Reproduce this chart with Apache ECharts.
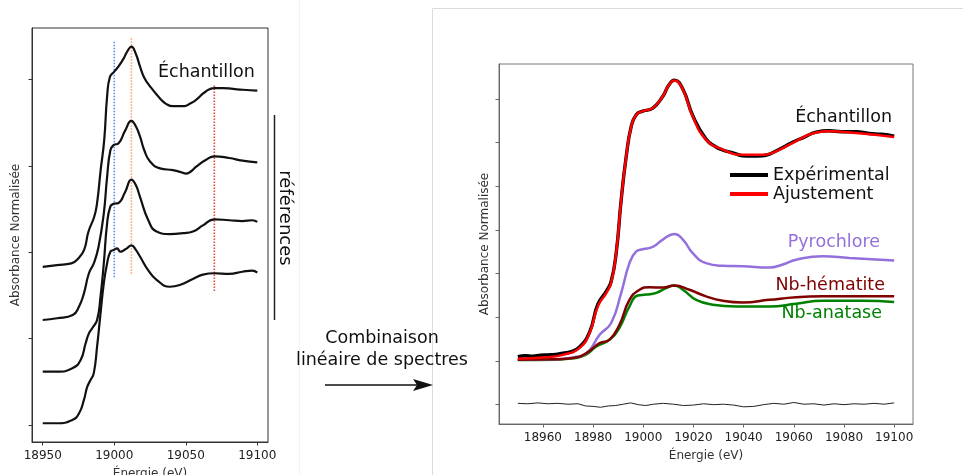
<!DOCTYPE html>
<html>
<head>
<meta charset="utf-8">
<script src="https://cdn.jsdelivr.net/npm/echarts@6/dist/echarts.min.js"></script>
<style>
  html, body { margin: 0; padding: 0; background: #fff; }
  #chart { width: 963px; height: 475px; }
</style>
</head>
<body>
<div id="chart"></div>
<script>
// ---- left panel : sample + 3 references, stacked (energy eV, absorbance + offset)
const leftSample = [[18950,1.83],[18960,1.85],[18970,1.87],[18975,1.93],[18979,2.03],[18982,2.24],[18986,2.41],[18988,2.57],[18990.5,2.95],[18993,3.30],[18995,3.80],[18997,4.03],[19000,4.09],[19003,4.15],[19006.5,4.24],[19009,4.32],[19012,4.38],[19015,4.30],[19018,4.15],[19021,4.02],[19025,3.92],[19032,3.78],[19036,3.72],[19041,3.69],[19049,3.69],[19053,3.72],[19057,3.76],[19064,3.86],[19070,3.90],[19076,3.90],[19083,3.89],[19090,3.88],[19100,3.87]]
const leftRef1 = [[18950,1.215],[18960,1.235],[18971,1.273],[18975.4,1.37],[18978.8,1.524],[18982.3,1.756],[18985.7,1.87],[18989,2.06],[18992.7,2.45],[18995,2.87],[18997.3,3.18],[18999.6,3.24],[19003,3.26],[19007.7,3.41],[19012,3.52],[19015,3.46],[19018,3.34],[19021,3.18],[19025,3.05],[19032,2.97],[19041,2.95],[19046,2.93],[19050.4,2.91],[19054,2.94],[19057.3,2.99],[19064.2,3.07],[19070,3.11],[19080.4,3.09],[19089.6,3.06],[19100,3.04]]
const leftRef2 = [[18950,0.617],[18960,0.617],[18970.7,0.656],[18976.5,0.752],[18980,0.946],[18982.3,1.06],[18984.6,1.12],[18988,1.215],[18990.4,1.485],[18992.7,1.87],[18995,2.33],[18997.3,2.53],[18999.6,2.56],[19003,2.57],[19007.7,2.70],[19012,2.84],[19015,2.78],[19018,2.64],[19023.8,2.37],[19029.6,2.24],[19038.9,2.21],[19048.1,2.22],[19055,2.24],[19062,2.31],[19070,2.38],[19080.4,2.37],[19089.6,2.36],[19096.5,2.37],[19100,2.35]]
const leftRef3 = [[18950,0.02],[18960,0.02],[18970.7,0.058],[18975.4,0.135],[18978.8,0.29],[18981.1,0.44],[18983.4,0.52],[18985.7,0.60],[18988,0.906],[18990.4,1.29],[18992.7,1.64],[18995,1.87],[18997.3,2.006],[18999.6,2.025],[19002,2.045],[19004.2,2.006],[19006.5,2.02],[19008.8,2.045],[19012,2.08],[19015,2.03],[19018,1.95],[19023.8,1.79],[19029.6,1.68],[19038.9,1.60],[19045.8,1.62],[19055,1.69],[19062,1.74],[19070,1.756],[19080.4,1.75],[19089.6,1.774],[19096.5,1.786],[19100,1.763]]

// dotted guide lines : energy, bottom, top
const guideEnergy = [19000, 19012, 19070]
const guideBottom = [1.71, 1.75, 1.55]
const guideTop = [4.44, 4.48, 3.94]

const leftTicksX = [18950, 19000, 19050, 19100]
const leftTicksY = [0, 1, 2, 3, 4]

// ---- right panel : linear combination fit
const experimental = [[18950,0.10],[18953,0.12],[18956,0.11],[18959,0.13],[18962,0.14],[18965,0.15],[18968,0.18],[18971,0.21],[18974.6,0.32],[18978.6,0.66],[18981.9,1.30],[18985.3,1.60],[18987.2,1.82],[18989.2,2.47],[18991.2,3.69],[18993.2,4.68],[18995.2,5.37],[18997.2,5.64],[18999.8,5.72],[19003.8,5.79],[19007.8,6.06],[19010,6.30],[19012.4,6.43],[19015.8,6.22],[19019.7,5.62],[19025,5.08],[19029,4.90],[19031.7,4.83],[19036,4.76],[19039.6,4.70],[19043,4.69],[19047.6,4.70],[19050,4.73],[19052.9,4.81],[19056,4.90],[19059.5,5.01],[19064,5.12],[19068.9,5.24],[19074,5.27],[19079,5.25],[19084.8,5.25],[19090,5.21],[19095,5.19],[19100,5.15]]
const fit = [[18950,0.05],[18960,0.08],[18968,0.14],[18974.6,0.30],[18978.6,0.64],[18981.9,1.25],[18985.3,1.56],[18987.2,1.79],[18989.2,2.47],[18991.2,3.69],[18993.2,4.68],[18995.2,5.37],[18997.2,5.64],[18999.8,5.72],[19003.8,5.79],[19007.8,6.06],[19010,6.30],[19012.4,6.42],[19015.8,6.21],[19019.7,5.60],[19025,5.07],[19031.7,4.84],[19039.6,4.72],[19047.6,4.72],[19052.9,4.80],[19059.5,4.99],[19068.9,5.23],[19074,5.26],[19084.8,5.22],[19100,5.13]]
const pyrochlore = [[18950,0.03],[18965,0.04],[18972,0.08],[18977.3,0.17],[18982.6,0.60],[18987.2,0.87],[18991.2,1.56],[18994.5,2.24],[18997.2,2.51],[18999.8,2.56],[19003.8,2.61],[19007.8,2.78],[19012.4,2.91],[19015.8,2.78],[19019.7,2.47],[19025,2.24],[19031.7,2.18],[19039.6,2.17],[19050.3,2.14],[19055.6,2.21],[19060.9,2.32],[19071.5,2.40],[19082.1,2.36],[19100,2.30]]
const hematite = [[18950,0.03],[18965,0.04],[18972,0.07],[18977,0.17],[18982.6,0.41],[18986.6,0.49],[18990.5,0.83],[18994.5,1.40],[18998.5,1.63],[19002.5,1.69],[19007.8,1.68],[19012.4,1.73],[19018.4,1.63],[19025,1.48],[19031.7,1.38],[19039.6,1.34],[19050.3,1.40],[19060.9,1.46],[19071.5,1.48],[19087.4,1.48],[19100,1.48]]
const anatase = [[18950,0.02],[18965,0.03],[18972,0.06],[18977,0.14],[18981.3,0.33],[18986.6,0.49],[18990.5,0.76],[18994.5,1.25],[18997.8,1.50],[19001.2,1.52],[19005.2,1.56],[19009.1,1.67],[19012.4,1.73],[19015.8,1.63],[19021.1,1.40],[19027.7,1.29],[19037,1.25],[19050.3,1.25],[19060.9,1.31],[19071.5,1.38],[19087.4,1.38],[19100,1.35]]
const residual = [[18950,-0.97],[18954,-0.98],[18958,-0.96],[18962,-0.98],[18966,-0.97],[18970,-0.99],[18974,-0.98],[18977,-1.03],[18980,-1.04],[18983,-1.06],[18986,-1.03],[18989,-1.02],[18992,-0.99],[18995,-0.96],[18998,-1.00],[19001,-1.02],[19004,-0.99],[19008,-0.97],[19012,-0.99],[19016,-1.02],[19020,-1.01],[19024,-0.98],[19028,-1.00],[19032,-0.99],[19036,-1.01],[19040,-1.05],[19044,-1.04],[19048,-1.00],[19052,-0.97],[19056,-0.99],[19060,-0.95],[19064,-0.99],[19068,-0.98],[19072,-1.01],[19076,-0.98],[19080,-1.00],[19084,-0.98],[19088,-0.99],[19092,-0.97],[19096,-0.99],[19100,-0.96]]

const rightTicksX = [18960, 18980, 19000, 19020, 19040, 19060, 19080, 19100]
const rightTicksY = [-1, 0, 1, 2, 3, 4, 5, 6]

const FONT = 'DejaVu Sans'
const chart = echarts.init(document.getElementById('chart'), null, { renderer: 'canvas' })

function xAxisOf (grid, ticks, color) {
  return {
    gridIndex: grid,
    type: 'value',
    min: 18942.5,
    max: 19107.5,
    splitLine: { show: false },
    axisLine: { onZero: false, lineStyle: { color: color, width: 1 } },
    axisTick: { customValues: ticks, length: 3.5, lineStyle: { color: color } },
    axisLabel: { customValues: ticks, formatter: v => String(v), margin: 8, fontSize: 12, color: '#222', fontFamily: FONT },
    name: 'Énergie (eV)',
    nameLocation: 'middle',
    nameGap: 26,
    nameTextStyle: { fontSize: 12, color: '#333', fontFamily: FONT }
  }
}

function yAxisOf (grid, min, max, ticks, color, gap) {
  return {
    gridIndex: grid,
    type: 'value',
    min: min,
    max: max,
    splitLine: { show: false },
    axisLine: { show: true, onZero: false, lineStyle: { color: color, width: 1 } },
    axisTick: { show: true, customValues: ticks, length: 3.5, lineStyle: { color: color } },
    axisLabel: { show: false },
    name: 'Absorbance Normalisée',
    nameLocation: 'middle',
    nameRotate: 90,
    nameGap: gap,
    nameTextStyle: { fontSize: 12, color: '#333', fontFamily: FONT }
  }
}

function curve (name, grid, data, color, width, z) {
  return {
    name: name,
    type: 'line',
    xAxisIndex: grid,
    yAxisIndex: grid,
    data: data,
    symbol: 'none',
    smooth: 0.5,
    lineStyle: { color: color, width: width },
    itemStyle: { color: color },
    z: z || 2,
    silent: true
  }
}

const guideColors = ['#5b8ff0', '#ffa070', '#e8473b']
const guideSeries = guideEnergy.map((e, i) => ({
  type: 'line',
  xAxisIndex: 0,
  yAxisIndex: 0,
  data: [[e, guideBottom[i]], [e, guideTop[i]]],
  symbol: 'none',
  lineStyle: { color: guideColors[i], width: 1.6, type: [1.5, 1.5] },
  z: 1,
  silent: true
}))

chart.setOption({
  backgroundColor: '#fff',
  animation: false,
  grid: [
    { left: 32, top: 28, width: 236, height: 414, outerBoundsMode: 'none', show: true, borderColor: '#333', borderWidth: 1, backgroundColor: 'transparent' },
    { left: 499, top: 64, width: 414, height: 360, outerBoundsMode: 'none', show: true, borderColor: '#777', borderWidth: 1, backgroundColor: 'transparent' }
  ],
  xAxis: [xAxisOf(0, leftTicksX, '#333'), xAxisOf(1, rightTicksX, '#666')],
  yAxis: [yAxisOf(0, -0.197, 4.595, leftTicksY, '#333', 10), yAxisOf(1, -1.443, 6.80, rightTicksY, '#666', 8)],
  legend: {
    data: ['Expérimental', 'Ajustement'],
    orient: 'vertical',
    left: 730,
    top: 166,
    padding: 0,
    itemGap: 1,
    itemWidth: 38,
    itemHeight: 4,
    icon: 'rect',
    selectedMode: false,
    textStyle: { fontSize: 17.5, color: '#111', fontFamily: FONT }
  },
  series: [
    ...guideSeries,
    curve('leftSample', 0, leftSample, '#111', 2.2),
    curve('leftRef1', 0, leftRef1, '#111', 2.2),
    curve('leftRef2', 0, leftRef2, '#111', 2.2),
    curve('leftRef3', 0, leftRef3, '#111', 2.2),
    {
      name: 'residual', type: 'line', xAxisIndex: 1, yAxisIndex: 1, data: residual,
      symbol: 'none', lineStyle: { color: '#222', width: 1 }, silent: true
    },
    curve('Nb-anatase', 1, anatase, '#008000', 2.5),
    curve('Nb-hématite', 1, hematite, '#800000', 2.5, 3),
    curve('Pyrochlore', 1, pyrochlore, '#9370db', 2.5),
    curve('Expérimental', 1, experimental, '#000', 3.4, 4),
    curve('Ajustement', 1, fit, '#ff0000', 2.5, 5)
  ],
  graphic: [
    { type: 'line', shape: { x1: 299.5, y1: 0, x2: 299.5, y2: 475 }, style: { stroke: '#f3f3f3', lineWidth: 1 }, silent: true },
    { type: 'rect', shape: { x: 432.5, y: 8.5, width: 700, height: 700 }, style: { fill: 'none', stroke: '#dcdcdc', lineWidth: 1 }, silent: true },
    { type: 'text', left: 158, top: 63, style: { text: 'Échantillon', font: '17.5px "DejaVu Sans"', fill: '#111' } },
    { type: 'text', right: 71, top: 108, style: { text: 'Échantillon', font: '17.5px "DejaVu Sans"', fill: '#111' } },
    { type: 'text', right: 83, top: 233, style: { text: 'Pyrochlore', font: '17.5px "DejaVu Sans"', fill: '#9370db' } },
    { type: 'text', right: 78, top: 276, style: { text: 'Nb-hématite', font: '17.5px "DejaVu Sans"', fill: '#800000' } },
    { type: 'text', right: 81, top: 304, style: { text: 'Nb-anatase', font: '17.5px "DejaVu Sans"', fill: '#008000' } },
    { type: 'line', shape: { x1: 274.5, y1: 115, x2: 274.5, y2: 320 }, style: { stroke: '#222', lineWidth: 1.5 } },
    {
      type: 'text', x: 285, y: 218, rotation: -Math.PI / 2,
      style: { text: 'références', font: '18px "DejaVu Sans"', fill: '#111', align: 'center', verticalAlign: 'middle' }
    },
    { type: 'text', x: 382, y: 338, style: { text: 'Combinaison', font: '17.5px "DejaVu Sans"', fill: '#111', align: 'center', verticalAlign: 'middle' } },
    { type: 'text', x: 382, y: 360, style: { text: 'linéaire de spectres', font: '17.5px "DejaVu Sans"', fill: '#111', align: 'center', verticalAlign: 'middle' } },
    { type: 'line', shape: { x1: 325, y1: 385, x2: 420, y2: 385 }, style: { stroke: '#111', lineWidth: 1.5 } },
    { type: 'polygon', shape: { points: [[433, 385], [413, 379], [417, 385], [413, 391]] }, style: { fill: '#111' } }
  ]
})
</script>
</body>
</html>
